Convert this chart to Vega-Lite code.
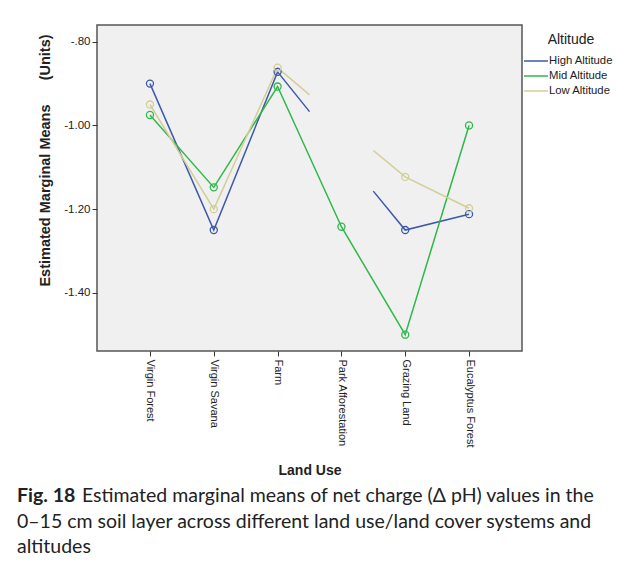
{
  "$schema": "https://vega.github.io/schema/vega-lite/v6.json",
  "width": 425,
  "height": 326,
  "autosize": {"type": "none"},
  "padding": {"left": 97, "top": 25, "right": 112, "bottom": 215},
  "background": "white",
  "title": {
    "text": "Fig. 18",
    "subtitle": [
      "\u200b\u00a0\u00a0\u00a0\u00a0\u00a0\u00a0\u00a0\u00a0\u00a0\u00a0\u00a0\u00a0\u00a0Estimated marginal means of net charge (Δ pH) values in the",
      "0–15 cm soil layer across different land use/land cover systems and",
      "altitudes"
    ],
    "orient": "bottom",
    "anchor": "start",
    "frame": "group",
    "font": "Lato",
    "fontSize": 19.5,
    "fontWeight": "bold",
    "color": "#222222",
    "subtitleFont": "Lato",
    "subtitleFontSize": 19.5,
    "subtitleColor": "#222222",
    "subtitleLineHeight": 25.5,
    "subtitlePadding": -19.5,
    "dx": -80,
    "offset": 10
  },
  "config": {
    "view": {"fill": "#f0f0f0", "stroke": "#555555", "strokeWidth": 1.5},
    "legend": {
      "symbolType": "M-1.714,0H1.714",
      "symbolStrokeWidth": 1.5,
      "symbolSize": 196,
      "labelFont": "Liberation Sans",
      "labelFontSize": 11.3,
      "labelColor": "#222222",
      "labelOffset": 5,
      "titleFont": "Liberation Sans",
      "titleFontSize": 14,
      "titleFontWeight": "normal",
      "titleColor": "#222222",
      "titleAnchor": "middle",
      "titlePadding": 6,
      "rowPadding": 1
    }
  },
  "data": {
    "values": [
      {"alt": "High Altitude", "pos": 0, "value": -0.9, "seg": "a", "point": "yes"},
      {"alt": "High Altitude", "pos": 1, "value": -1.25, "seg": "a", "point": "yes"},
      {"alt": "High Altitude", "pos": 2, "value": -0.872, "seg": "a", "point": "yes"},
      {"alt": "High Altitude", "pos": 2.5, "value": -0.967, "seg": "a", "point": "no"},
      {"alt": "High Altitude", "pos": 3.5, "value": -1.157, "seg": "b", "point": "no"},
      {"alt": "High Altitude", "pos": 4, "value": -1.25, "seg": "b", "point": "yes"},
      {"alt": "High Altitude", "pos": 5, "value": -1.212, "seg": "b", "point": "yes"},
      {"alt": "Mid Altitude", "pos": 0, "value": -0.975, "seg": "a", "point": "yes"},
      {"alt": "Mid Altitude", "pos": 1, "value": -1.148, "seg": "a", "point": "yes"},
      {"alt": "Mid Altitude", "pos": 2, "value": -0.907, "seg": "a", "point": "yes"},
      {"alt": "Mid Altitude", "pos": 3, "value": -1.242, "seg": "a", "point": "yes"},
      {"alt": "Mid Altitude", "pos": 4, "value": -1.5, "seg": "a", "point": "yes"},
      {"alt": "Mid Altitude", "pos": 5, "value": -1.0, "seg": "a", "point": "yes"},
      {"alt": "Low Altitude", "pos": 0, "value": -0.95, "seg": "a", "point": "yes"},
      {"alt": "Low Altitude", "pos": 1, "value": -1.2, "seg": "a", "point": "yes"},
      {"alt": "Low Altitude", "pos": 2, "value": -0.862, "seg": "a", "point": "yes"},
      {"alt": "Low Altitude", "pos": 2.5, "value": -0.927, "seg": "a", "point": "no"},
      {"alt": "Low Altitude", "pos": 3.5, "value": -1.06, "seg": "b", "point": "no"},
      {"alt": "Low Altitude", "pos": 4, "value": -1.123, "seg": "b", "point": "yes"},
      {"alt": "Low Altitude", "pos": 5, "value": -1.198, "seg": "b", "point": "yes"}
    ]
  },
  "encoding": {
    "x": {
      "field": "pos",
      "type": "quantitative",
      "scale": {"domain": [-0.83, 5.83], "nice": false, "zero": false},
      "axis": {
        "values": [0, 1, 2, 3, 4, 5],
        "labelExpr": "['Virgin Forest','Virgin Savana','Farm','Park Afforestation','Grazing Land','Eucalyptus Forest'][datum.value]",
        "labelAngle": 90,
        "labelAlign": "left",
        "labelBaseline": "middle",
        "labelFont": "Liberation Sans",
        "labelFontSize": 11,
        "labelColor": "#222222",
        "labelPadding": 3,
        "grid": false,
        "domain": false,
        "tickSize": 5,
        "tickColor": "#333333",
        "title": "Land Use",
        "titleFont": "Liberation Sans",
        "titleFontSize": 14,
        "titleFontWeight": "bold",
        "titleColor": "#222222",
        "titleBaseline": "middle",
        "titleY": 119
      }
    },
    "y": {
      "field": "value",
      "type": "quantitative",
      "scale": {"domain": [-1.539, -0.76], "nice": false, "zero": false},
      "axis": {
        "values": [-0.8, -1.0, -1.2, -1.4],
        "labelExpr": "'-' + (datum.value > -1 ? substring(format(-datum.value, '.2f'), 1) : format(-datum.value, '.2f'))",
        "labelFont": "Liberation Sans",
        "labelFontSize": 11.5,
        "labelColor": "#222222",
        "labelPadding": 2,
        "grid": false,
        "domain": false,
        "tickSize": 5,
        "tickColor": "#333333",
        "title": "Estimated Marginal Means\u00a0\u00a0\u00a0\u00a0\u00a0\u00a0(Units)",
        "titleFont": "Liberation Sans",
        "titleFontSize": 14.5,
        "titleFontWeight": "bold",
        "titleColor": "#222222",
        "titleBaseline": "middle",
        "titleX": -52,
        "titleY": 135
      }
    },
    "color": {
      "field": "alt",
      "type": "nominal",
      "scale": {
        "domain": ["High Altitude", "Mid Altitude", "Low Altitude"],
        "range": ["#3e58ac", "#2eb848", "#d3ce97"]
      },
      "legend": {"title": "Altitude", "orient": "none", "legendX": 431, "legendY": 8}
    }
  },
  "layer": [
    {
      "mark": {"type": "line", "strokeWidth": 1.5},
      "encoding": {"detail": {"field": "seg"}}
    },
    {
      "transform": [{"filter": "datum.point == 'yes'"}],
      "mark": {"type": "point", "shape": "circle", "filled": false, "size": 50, "strokeWidth": 1.3, "opacity": 1},
      "encoding": {"color": {"field": "alt", "type": "nominal", "legend": null}}
    }
  ]
}
